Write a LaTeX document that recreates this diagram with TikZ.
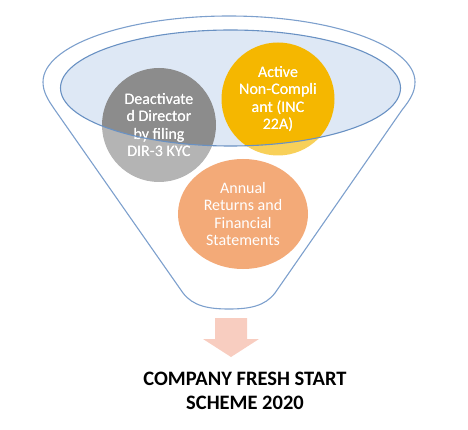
\documentclass[tikz,border=0pt]{standalone}
\usepackage{fontspec}
\setmainfont{Carlito}
\usetikzlibrary{shapes.geometric}
\definecolor{funline}{RGB}{125,160,205}
\definecolor{ellfill}{RGB}{222,232,245}
\definecolor{ellline}{RGB}{105,145,195}
\definecolor{cgray}{RGB}{140,140,140}
\definecolor{cyellow}{RGB}{245,183,0}
\definecolor{corange}{RGB}{237,125,49}
\definecolor{arrowpink}{RGB}{248,205,192}
\tikzset{
  bubble/.style={circle, inner sep=0pt, minimum size=114pt, text=white, align=center,
    font=\fontsize{16}{17.3}\selectfont},
  funnelline/.style={draw=funline, line width=1.1pt},
  title/.style={align=center, font=\bfseries\fontsize{20.5}{24}\selectfont, text=black}
}
\begin{document}
\begin{tikzpicture}[x=1pt,y=-1pt]
\useasboundingbox (0,0) rectangle (468,430);
% inner ellipse fill
\fill[ellfill] (230.5,88) ellipse[x radius=170, y radius=58];
% bubbles
\node[bubble, fill=cgray] (dir) at (159,125) {Deactivate\\d Director\\by filing\\DIR-3 KYC};
\node[bubble, fill=cyellow, minimum size=113pt] (inc) at (278,99) {Active\\Non-Compli\\ant (INC\\22A)};
\node[bubble, ellipse, fill=corange, minimum width=130pt, minimum height=110pt] (ann) at (243,214) {Annual\\Returns and\\Financial\\Statements};
% funnel body overlay (lightens the parts below the rim)
\fill[white, fill opacity=0.35, even odd rule]
  (43,82) arc[start angle=180, end angle=360, x radius=186, y radius=66]
  .. controls (415,92) and (410,100) .. (402,110) -- (275,293)
  .. controls (265,306) and (250,309) .. (229,309)
  .. controls (208,309) and (193,306) .. (183,293) -- (55,110)
  .. controls (48,100) and (43,92) .. (43,82) -- cycle
  (230.5,88) ellipse[x radius=170, y radius=58];
% rewrite texts on top
\node[bubble] at (dir) {Deactivate\\d Director\\by filing\\DIR-3 KYC};
\node[bubble] at (inc) {Active\\Non-Compli\\ant (INC\\22A)};
% inner ellipse outline
\draw[draw=ellline, line width=1.1pt] (230.5,88) ellipse[x radius=170, y radius=58];
% funnel outline
\draw[funnelline]
  (43,82) arc[start angle=180, end angle=360, x radius=186, y radius=66]
  .. controls (415,92) and (410,100) .. (402,110) -- (275,293)
  .. controls (265,306) and (250,309) .. (229,309)
  .. controls (208,309) and (193,306) .. (183,293) -- (55,110)
  .. controls (48,100) and (43,92) .. (43,82) -- cycle;
% arrow
\fill[arrowpink] (215,318) -- (247,318) -- (247,339) -- (259,339) -- (231,357) -- (203,339) -- (215,339) -- cycle;
% title
\node[title] (ttl) at (245,391) {COMPANY FRESH START\\SCHEME 2020};
\end{tikzpicture}
\end{document}
